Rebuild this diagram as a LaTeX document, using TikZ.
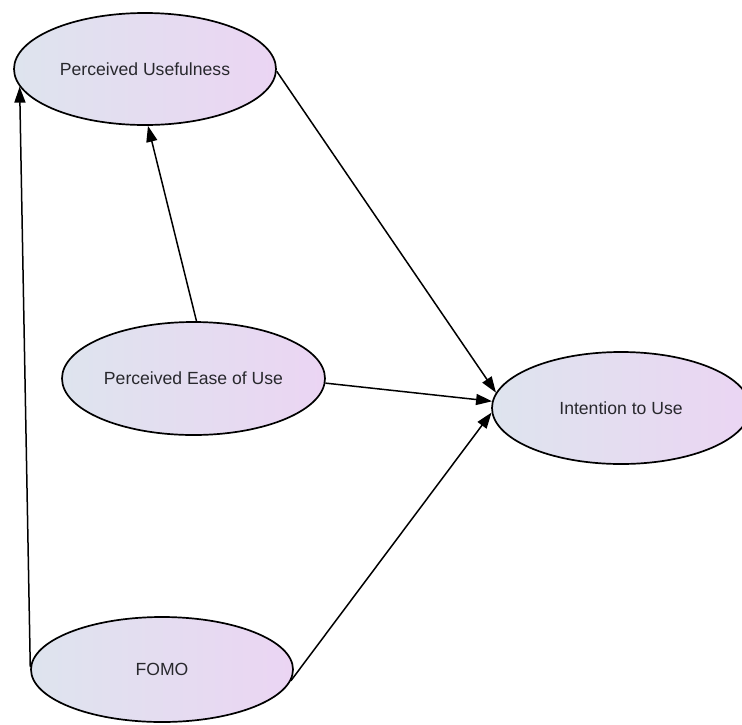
\documentclass[tikz,border=0pt]{standalone}
\usepackage{fontspec}
\setmainfont{Liberation Sans}
\usetikzlibrary{shapes.geometric,arrows.meta}
\definecolor{leftc}{RGB}{222,228,238}
\definecolor{rightc}{RGB}{235,213,243}
\definecolor{txt}{RGB}{40,40,45}
\tikzset{
  construct/.style={ellipse, draw=black, line width=1.7pt, minimum width=262pt, minimum height=112pt,
    inner sep=0pt, left color=leftc, right color=rightc, text=txt,
    font=\fontsize{17.6}{21}\selectfont},
  link/.style={line width=1.5pt, -{Triangle[length=16pt,width=11pt]}}
}
\begin{document}
\begin{tikzpicture}[x=1pt,y=-1pt]
\useasboundingbox (0,0) rectangle (742,724);
\begin{scope}
\clip (0,0) rectangle (742,724);
\node[construct] (pu) at (145,69) {Perceived Usefulness};
\node[construct, minimum width=263pt, minimum height=113pt] (peou) at (193.5,378.5) {Perceived Ease of Use};
\node[construct, minimum height=105pt] (fomo) at (162,669.5) {FOMO};
\node[construct, minimum width=258pt] (itu) at (621,408) {Intention to Use};
\draw[link] (fomo.179) -- (pu.188.5);
\draw[link] (peou.87) -- (pu.273);
\draw[link] (pu.359) -- (itu.173);
\draw[link] (peou.358) -- (itu.177);
\draw[link] (fomo.355) -- (itu.182);
\end{scope}
\end{tikzpicture}
\end{document}
